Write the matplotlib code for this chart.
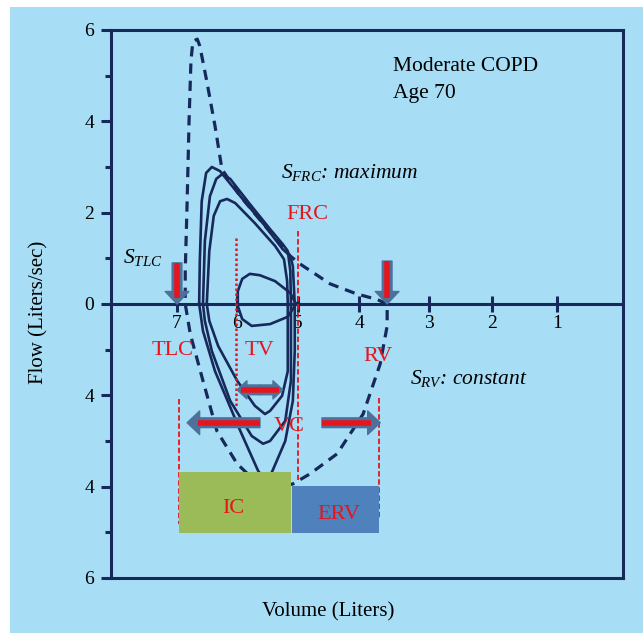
import numpy as np
import matplotlib.pyplot as plt
from matplotlib.patches import Rectangle, FancyArrowPatch

plt.rcParams['font.family'] = 'Liberation Serif'
plt.rcParams['mathtext.fontset'] = 'custom'
plt.rcParams['mathtext.it'] = 'Liberation Serif:italic'
plt.rcParams['mathtext.rm'] = 'Liberation Serif'

# flow-volume loops (volume in liters, flow in liters/sec)
loop1_v = [6.65, 6.64, 6.61, 6.54, 6.45, 6.32, 6.00, 5.61, 5.33, 5.21, 5.17, 5.14, 5.14, 5.17, 5.29, 5.50, 5.61, 5.72, 6.00, 6.40, 6.59, 6.65]
loop1_f = [0.00, 0.94, 2.25, 2.87, 3.00, 2.91, 2.36, 1.71, 1.20, 1.05, 0.83, 0.00, -1.03, -2.12, -3.00, -3.68, -3.87, -3.65, -2.78, -1.47, -0.59, 0.00]
loop2_v = [6.59, 6.56, 6.48, 6.38, 6.29, 6.16, 5.85, 5.53, 5.33, 5.25, 5.21, 5.20, 5.20, 5.29, 5.53, 5.64, 5.82, 6.16, 6.45, 6.56, 6.59]
loop2_f = [0.00, 1.38, 2.36, 2.74, 2.84, 2.74, 2.19, 1.64, 1.31, 1.16, 0.72, 0.00, -1.68, -2.56, -3.00, -3.06, -2.89, -2.12, -1.03, -0.37, 0.00]
loop3_v = [6.53, 6.49, 6.42, 6.32, 6.21, 6.08, 5.77, 5.45, 5.31, 5.26, 5.25, 5.25, 5.34, 5.53, 5.61, 5.77, 6.05, 6.35, 6.49, 6.53]
loop3_f = [0.00, 1.16, 1.93, 2.25, 2.30, 2.21, 1.77, 1.27, 0.98, 0.50, 0.00, -1.47, -2.01, -2.34, -2.41, -2.23, -1.68, -0.92, -0.37, 0.00]
tv_v = [5.12, 5.21, 5.45, 5.69, 5.85, 5.97, 6.04, 6.04, 5.97, 5.82, 5.53, 5.25, 5.12]
tv_f = [0.00, 0.24, 0.50, 0.63, 0.66, 0.55, 0.28, -0.04, -0.33, -0.48, -0.44, -0.28, 0.00]

# maximal envelope (dashed)
env_v = [3.68, 3.84, 4.16, 4.58, 5.06, 5.21, 5.61, 6.00, 6.29, 6.40, 6.53, 6.64, 6.68, 6.75, 6.78, 6.81, 6.84, 6.87, 6.87,
         6.79, 6.59, 6.37, 6.05, 5.77, 5.45, 5.17, 4.90, 4.47, 4.06, 3.79, 3.68, 3.68]
env_f = [0.00, 0.10, 0.22, 0.44, 0.88, 1.05, 1.71, 2.36, 2.95, 3.90, 4.88, 5.65, 5.80, 5.75, 5.32, 4.00, 2.25, 0.72, 0.00,
         -0.66, -1.68, -2.78, -3.50, -3.87, -4.03, -3.94, -3.72, -3.28, -2.41, -1.31, -0.48, 0.00]

vol_ticks = [7.0, 6.05, 5.09, 4.12, 3.02, 2.02, 1.0]
vol_labels = ['7', '6', '5', '4', '3', '2', '1']
flow_ticks = [6, 4, 2, 0, -2, -4, -6]
flow_labels = ['6', '4', '2', '0', '4', '4', '6']

# lung volumes
TLC, RV, FRC, VT_END = 6.97, 3.81, 5.09, 6.07
ic_box = (5.20, 6.97, -5.01, -3.68)
erv_box = (3.81, 5.18, -5.01, -3.98)

navy = '#16295a'
red = '#e8141c'
slate = '#4d719b'
bg = '#a7ddf5'

fig = plt.figure(figsize=(6.43, 6.33), dpi=100)
fig.patch.set_facecolor('white')
fig.patches.append(Rectangle((10 / 643, 0), 1, 626 / 633, transform=fig.transFigure,
                             facecolor=bg, edgecolor='none', zorder=-10))
ax = fig.add_axes([111 / 643, 55 / 633, 512 / 643, 548 / 633])
ax.set_facecolor(bg)
ax.set_xlim(8.043, -0.046)
ax.set_ylim(-6, 6)

for s in ax.spines.values():
    s.set_linewidth(2.2)
    s.set_color(navy)

ax.set_xticks([])
ax.set_yticks(flow_ticks)
ax.set_yticklabels(flow_labels, fontsize=14)
ax.set_yticks([5, 3, 1, -1, -3, -5], minor=True)
ax.tick_params(axis='y', which='major', length=7, width=2.2, color=navy, pad=5)
ax.tick_params(axis='y', which='minor', length=4.5, width=2.2, color=navy)

ax.axhline(0, color=navy, lw=2.2, zorder=3)
ax.plot(vol_ticks, np.zeros(len(vol_ticks)), ls='none', marker='|', ms=12, mew=2.2, color=navy, zorder=3)
for v, lab in zip(vol_ticks, vol_labels):
    ax.text(v, -0.42, lab, fontsize=14, ha='center', va='center')

for vv, ff in [(loop1_v, loop1_f), (loop2_v, loop2_f), (loop3_v, loop3_f), (tv_v, tv_f)]:
    ax.plot(vv, ff, color=navy, lw=1.9, zorder=4)
ax.plot(env_v, env_f, color=navy, lw=2.3, dashes=(3.2, 2.2), zorder=4)

# red guide lines
ax.plot([VT_END, VT_END], [1.44, -2.23], color=red, lw=1.8, ls=(0, (1, 1)), zorder=5)
ax.plot([FRC, FRC], [1.60, -3.85], color=red, lw=1.3, ls=(0, (3, 1.5)), zorder=5)
ax.plot([TLC, TLC], [-2.08, -4.81], color=red, lw=1.3, ls=(0, (3, 1.5)), zorder=5)
ax.plot([RV, RV], [-2.06, -4.68], color=red, lw=1.3, ls=(0, (3, 1.5)), zorder=5)

# volume boxes
ax.add_patch(Rectangle((ic_box[0], ic_box[2]), ic_box[1] - ic_box[0], ic_box[3] - ic_box[2],
                       facecolor='#9bbb59', edgecolor='none', zorder=6))
ax.add_patch(Rectangle((erv_box[0], erv_box[2]), erv_box[1] - erv_box[0], erv_box[3] - erv_box[2],
                       facecolor='#4f81bd', edgecolor='none', zorder=6))


def block_arrow(x0, y0, x1, y1, hw=17, hl=9, tw=7):
    a = FancyArrowPatch((x0, y0), (x1, y1),
                        arrowstyle='simple,head_width=%g,head_length=%g,tail_width=%g' % (hw, hl, tw),
                        mutation_scale=1, shrinkA=0, shrinkB=0, facecolor=slate, edgecolor=slate, zorder=7)
    ax.add_patch(a)
    ax.plot([x0, x0 + 0.85 * (x1 - x0)], [y0, y0 + 0.85 * (y1 - y0)], color=red, lw=4,
            solid_capstyle='butt', zorder=8)


block_arrow(7.0, 0.9, 7.0, 0.0)
block_arrow(3.68, 0.94, 3.68, 0.0)
block_arrow(5.69, -2.6, 6.84, -2.6)
block_arrow(4.71, -2.6, 3.79, -2.6)
block_arrow(5.69, -1.88, 6.05, -1.88, hw=13, hl=7, tw=7)
block_arrow(5.69, -1.88, 5.33, -1.88, hw=13, hl=7, tw=7)

# labels
for txt, x, y in [('FRC', 5.28, 1.86), ('TLC', 7.41, -1.12), ('TV', 5.94, -1.12), ('RV', 4.06, -1.25),
                  ('VC', 5.47, -2.78), ('IC', 6.29, -4.57), ('ERV', 4.79, -4.70)]:
    ax.text(x, y, txt, color=red, fontsize=16, ha='left', va='baseline', zorder=9)

ax.text(3.59, 5.10, 'Moderate COPD', fontsize=15.5, ha='left', va='baseline')
ax.text(3.59, 4.51, 'Age 70', fontsize=15.5, ha='left', va='baseline')
ax.text(5.36, 2.76, r'$S_{FRC}$: maximum', fontsize=15.5, style='italic', ha='left', va='baseline')
ax.text(7.85, 0.90, r'$S_{TLC}$', fontsize=15.5, ha='left', va='baseline')
ax.text(3.32, -1.75, r'$S_{RV}$: constant', fontsize=15.5, style='italic', ha='left', va='baseline')

fig.text(39 / 643, 1 - 312 / 633, 'Flow (Liters/sec)', fontsize=15, rotation=90, ha='center', va='center')
fig.text(328 / 643, 1 - 612 / 633, 'Volume (Liters)', fontsize=15, ha='center', va='center')

plt.savefig('out.png', dpi=100)
